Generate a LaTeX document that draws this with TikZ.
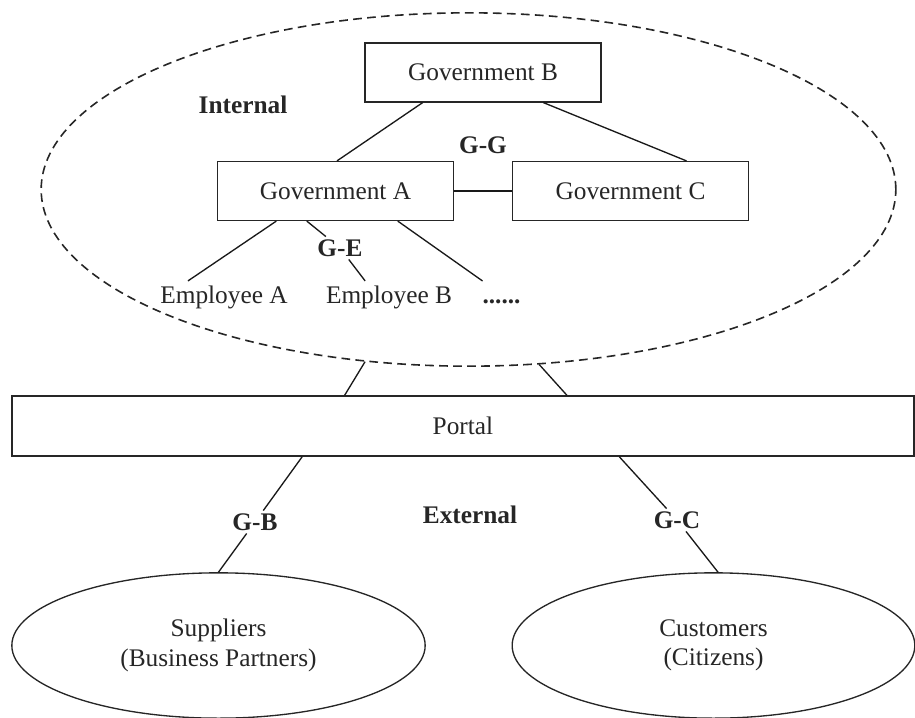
\documentclass[tikz,border=0pt]{standalone}
\usepackage{fontspec}
\setmainfont{Liberation Serif}
\usetikzlibrary{shapes.geometric,calc}

\tikzset{
  every node/.style={font=\fontsize{19}{22}\selectfont, text=black!85},
  govbox/.style={draw=black!85, line width=1.1pt, minimum width=177pt, minimum height=44pt, inner sep=0pt},
  bigoval/.style={draw=black!85, ellipse, line width=1pt, inner sep=0pt, align=center},
  tag/.style={font=\fontsize{19}{22}\selectfont\bfseries, inner sep=2pt},
  emp/.style={anchor=base, text height=13pt, text depth=4pt},
  link/.style={line width=1pt, black!90},
}

\begin{document}
\begin{tikzpicture}[x=0.75pt,y=0.75pt,yscale=-1,xscale=1]
\useasboundingbox (0,0) rectangle (915,718);

%Shape: Ellipse [internal]
\node [bigoval, dashed, dash pattern=on 6.5pt off 4pt, line width=1.2pt, minimum width=641pt, minimum height=265pt] (internal) at (468.5,189.5) {};

%Shape: Rectangle
\node [govbox] (govB) at (483,72.5) {Government B};
\node [govbox] (govA) at (335.5,191) {Government A};
\node [govbox] (govC) at (630.5,191) {Government C};
%Shape: Rectangle
\node [govbox, minimum width=676.5pt, minimum height=45pt] (portal) at (463,426) {Portal};
%Shape: Ellipse
\node [bigoval, minimum width=310pt, minimum height=109pt] (suppliers) at (218.5,645.5) {Suppliers\\(Business Partners)};
\node [bigoval, minimum width=302pt, minimum height=109pt] (customers) at (713.5,645.5) {Customers\\(Citizens)};

% Text Node
\node [tag] (intlbl) at (243,105) {Internal};
\node [tag] (gg) at (483,145) {G-G};
\node [tag] (ge) at (340,248) {G-E};
\node [tag] (extlbl) at (470,515) {External};
\node [tag] (gb) at (255,522) {G-B};
\node [tag] (gc) at (677,520) {G-C};
% Text Node
\node [emp] (empA) at (224,303) {Employee A};
\node [emp] (empB) at (389,303) {Employee B};
\node [emp, font=\fontsize{19}{22}\selectfont\bfseries] (more) at (501.5,303) {......};

%Straight Lines
\draw [link] ($(govB.south west)!0.246!(govB.south east)$) -- ($(govA.north west)!0.506!(govA.north east)$);
\draw [link] ($(govB.south west)!0.754!(govB.south east)$) -- ($(govC.north west)!0.736!(govC.north east)$);
\draw [link] (govA.east) -- (govC.west);
%Straight Lines
\draw [link] ($(govA.south west)!0.251!(govA.south east)$) -- ($(empA.north west)!0.236!(empA.north east)$);
\draw [link] ($(govA.south west)!0.379!(govA.south east)$) -- (ge);
\draw [link] (ge) -- ($(empB.north west)!0.324!(empB.north east)$);
\draw [link] ($(govA.south west)!0.762!(govA.south east)$) -- ($(more.north west)!0.1!(more.north east)$);
%Straight Lines
\draw [link] (internal.239.7) -- ($(portal.north west)!0.369!(portal.north east)$);
\draw [link] (internal.292.7) -- ($(portal.north west)!0.615!(portal.north east)$);
%Straight Lines
\draw [link] ($(portal.south west)!0.322!(portal.south east)$) -- (gb);
\draw [link] (gb) -- (suppliers.north);
\draw [link] ($(portal.south west)!0.673!(portal.south east)$) -- (gc);
\draw [link] (gc) -- ($(customers.north)+(4.5,0)$);

\end{tikzpicture}
\end{document}
